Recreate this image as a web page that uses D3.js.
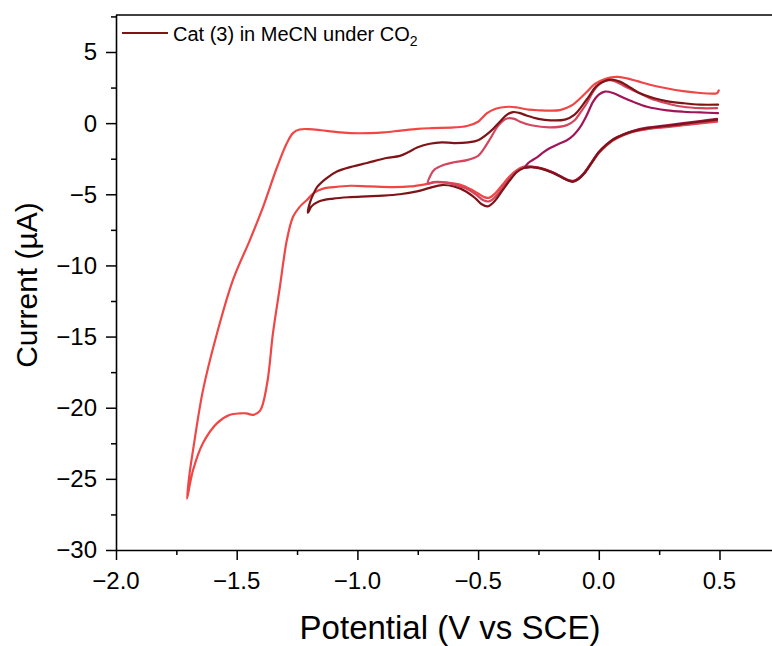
<!DOCTYPE html>
<html>
<head>
<meta charset="utf-8">
<script src="https://cdn.jsdelivr.net/npm/d3@7"></script>
<style>
  html, body { margin: 0; padding: 0; background: #fff; }
  svg { display: block; font-family: "Liberation Sans", Arial, Helvetica, sans-serif; }
</style>
</head>
<body>
<svg id="chart" width="772" height="646"></svg>
<script>
// Cyclic voltammograms: four scans with switching potentials -0.3, -0.7, -1.2 and -1.7 V.
// Each scan is a list of [potential (V vs SCE), current (µA)] pairs, starting at +0.5 V.

const xTickValues = [-2.0, -1.5, -1.0, -0.5, 0.0, 0.5];
const yTickValues = [5, 0, -5, -10, -15, -20, -25, -30];
const legendLabel = "Cat (3) in MeCN under CO";

// Scan to -1.7 V
const scanTo170 = [
  [0.49, 0.1], [0.42, -0.02], [0.35, -0.15], [0.28, -0.28], [0.2, -0.42], [0.14, -0.62],
  [0.1, -0.86], [0.06, -1.2], [0.03, -1.6], [0.0, -2.1], [-0.03, -2.8], [-0.06, -3.5],
  [-0.085, -3.9], [-0.105, -4.05], [-0.125, -4.0], [-0.15, -3.8], [-0.19, -3.45],
  [-0.24, -3.15], [-0.28, -3.05], [-0.31, -3.05], [-0.34, -3.3], [-0.37, -3.75],
  [-0.40, -4.35], [-0.43, -4.95], [-0.455, -5.25], [-0.475, -5.2], [-0.5, -4.95],
  [-0.53, -4.65], [-0.57, -4.35], [-0.62, -4.2], [-0.67, -4.15], [-0.72, -4.3],
  [-0.78, -4.45], [-0.85, -4.5], [-0.95, -4.45], [-1.03, -4.4], [-1.1, -4.5],
  [-1.142, -4.6], [-1.18, -4.9], [-1.209, -5.4], [-1.24, -5.9], [-1.267, -6.6],
  [-1.292, -8.2], [-1.321, -11.5], [-1.35, -14.8], [-1.374, -18.3], [-1.403, -20.2],
  [-1.432, -20.5], [-1.46, -20.4], [-1.486, -20.4], [-1.528, -20.5], [-1.582, -21.1],
  [-1.64, -22.5], [-1.681, -24.4], [-1.706, -26.4],
  [-1.695, -24.6], [-1.681, -23.0], [-1.64, -18.8], [-1.582, -14.8], [-1.515, -11.0],
  [-1.445, -8.2], [-1.391, -5.9], [-1.333, -3.1], [-1.292, -1.4], [-1.267, -0.7],
  [-1.24, -0.45], [-1.2, -0.42], [-1.15, -0.5], [-1.1, -0.6], [-1.03, -0.7],
  [-0.95, -0.7], [-0.89, -0.65], [-0.82, -0.52], [-0.75, -0.4], [-0.69, -0.35],
  [-0.6, -0.3], [-0.546, -0.2], [-0.5, 0.1], [-0.463, 0.7], [-0.43, 1.0],
  [-0.405, 1.1], [-0.37, 1.15], [-0.339, 1.1], [-0.29, 0.95], [-0.244, 0.9],
  [-0.2, 0.88], [-0.161, 0.92], [-0.13, 1.1], [-0.107, 1.3], [-0.08, 1.7],
  [-0.049, 2.2], [-0.02, 2.7], [0.01, 3.0], [0.046, 3.2], [0.08, 3.25], [0.117, 3.15],
  [0.16, 2.95], [0.212, 2.7], [0.28, 2.45], [0.349, 2.25], [0.42, 2.12], [0.475, 2.08],
  [0.49, 2.1], [0.497, 2.3]
];

// Scan to -1.2 V
const scanTo120 = [
  [0.49, 0.25], [0.42, 0.1], [0.35, -0.05], [0.28, -0.2], [0.2, -0.36], [0.14, -0.58],
  [0.1, -0.82], [0.06, -1.15], [0.03, -1.55], [0.0, -2.05], [-0.03, -2.8], [-0.06, -3.55],
  [-0.085, -3.95], [-0.105, -4.12], [-0.125, -4.05], [-0.15, -3.85], [-0.19, -3.5],
  [-0.24, -3.2], [-0.28, -3.1], [-0.31, -3.15], [-0.34, -3.45], [-0.37, -4.05],
  [-0.40, -4.75], [-0.43, -5.45], [-0.46, -5.85], [-0.485, -5.7], [-0.51, -5.3],
  [-0.55, -4.8], [-0.6, -4.45], [-0.65, -4.35], [-0.7, -4.55], [-0.753, -4.8],
  [-0.824, -5.0], [-0.894, -5.1], [-0.96, -5.15], [-1.031, -5.2], [-1.1, -5.3],
  [-1.16, -5.5], [-1.19, -5.85], [-1.205, -6.3],
  [-1.195, -5.5], [-1.18, -4.9], [-1.167, -4.5], [-1.13, -3.9], [-1.085, -3.4],
  [-1.02, -3.05], [-0.96, -2.8], [-0.88, -2.45], [-0.824, -2.3], [-0.79, -2.05],
  [-0.75, -1.7], [-0.7, -1.45], [-0.65, -1.35], [-0.6, -1.4], [-0.54, -1.35],
  [-0.5, -1.2], [-0.45, -0.6], [-0.41, 0.1], [-0.38, 0.6], [-0.355, 0.78],
  [-0.33, 0.72], [-0.297, 0.52], [-0.25, 0.3], [-0.2, 0.2], [-0.14, 0.25],
  [-0.1, 0.6], [-0.07, 1.2], [-0.04, 1.9], [-0.01, 2.6], [0.03, 3.0], [0.06, 3.05],
  [0.09, 2.9], [0.13, 2.5], [0.17, 2.1], [0.23, 1.75], [0.28, 1.55], [0.35, 1.4],
  [0.42, 1.3], [0.494, 1.3]
];

// Scan to -0.7 V
const scanTo070 = [
  [0.49, 0.15], [0.42, 0.02], [0.35, -0.12], [0.28, -0.25], [0.2, -0.4], [0.14, -0.6],
  [0.1, -0.84], [0.06, -1.18], [0.03, -1.58], [0.0, -2.08], [-0.03, -2.8], [-0.06, -3.5],
  [-0.085, -3.9], [-0.105, -4.08], [-0.125, -4.02], [-0.15, -3.82], [-0.19, -3.47],
  [-0.24, -3.17], [-0.28, -3.07], [-0.31, -3.1], [-0.34, -3.38], [-0.37, -3.9],
  [-0.40, -4.55], [-0.43, -5.2], [-0.455, -5.5], [-0.48, -5.4], [-0.51, -5.0],
  [-0.55, -4.6], [-0.6, -4.3], [-0.65, -4.15], [-0.685, -4.15], [-0.708, -4.25],
  [-0.698, -3.7], [-0.68, -3.25], [-0.645, -2.95], [-0.6, -2.75], [-0.546, -2.6],
  [-0.5, -2.3], [-0.48, -1.9], [-0.45, -1.1], [-0.422, -0.3], [-0.40, 0.12],
  [-0.38, 0.33], [-0.35, 0.3], [-0.326, 0.1], [-0.28, -0.15], [-0.202, -0.3],
  [-0.132, -0.14], [-0.1, 0.2], [-0.078, 0.7], [-0.05, 1.4], [-0.024, 2.2],
  [0.0, 2.7], [0.034, 3.0], [0.065, 2.95], [0.117, 2.5], [0.17, 2.1], [0.212, 1.75],
  [0.28, 1.4], [0.349, 1.15], [0.42, 1.05], [0.49, 1.05]
];

// Scan to -0.3 V
const scanTo030 = [
  [0.49, 0.3], [0.42, 0.15], [0.35, 0.0], [0.28, -0.15], [0.2, -0.32], [0.14, -0.55],
  [0.1, -0.8], [0.06, -1.12], [0.03, -1.52], [0.0, -2.02], [-0.03, -2.75], [-0.06, -3.48],
  [-0.085, -3.9], [-0.105, -4.08], [-0.125, -4.02], [-0.15, -3.82], [-0.19, -3.47],
  [-0.24, -3.17], [-0.28, -3.08], [-0.306, -3.12],
  [-0.295, -2.85], [-0.28, -2.65], [-0.256, -2.4], [-0.23, -2.05], [-0.202, -1.75],
  [-0.165, -1.45], [-0.132, -1.2], [-0.105, -0.85], [-0.078, -0.3], [-0.05, 0.55],
  [-0.024, 1.5], [0.0, 2.0], [0.025, 2.22], [0.059, 2.12], [0.1, 1.8], [0.142, 1.5],
  [0.2, 1.15], [0.283, 0.9], [0.35, 0.8], [0.419, 0.75], [0.494, 0.7]
];

const scans = [
  { name: "to -1.7 V", color: "#F04646", values: scanTo170 },
  { name: "to -0.7 V", color: "#D4455E", values: scanTo070 },
  { name: "to -0.3 V", color: "#A01458", values: scanTo030 },
  { name: "to -1.2 V", color: "#7E1417", values: scanTo120 }
];

const svg = d3.select("#chart");
const plotLeft = 116, plotRight = 772, plotTop = 15, plotBottom = 550;

const x = d3.scaleLinear().domain([-2.0, 0.7175]).range([plotLeft, plotRight]);
const y = d3.scaleLinear().domain([-30, 7.6]).range([plotBottom, plotTop]);

// Curves
const line = d3.line()
  .x(d => x(d[0]))
  .y(d => y(d[1]))
  .curve(d3.curveCatmullRom.alpha(0.5));

svg.append("defs").append("clipPath").attr("id", "plot-clip")
  .append("rect").attr("x", plotLeft).attr("y", plotTop)
  .attr("width", plotRight - plotLeft).attr("height", plotBottom - plotTop);

svg.append("g").attr("clip-path", "url(#plot-clip)")
  .selectAll("path")
  .data(scans)
  .join("path")
  .attr("d", d => line(d.values))
  .attr("fill", "none")
  .attr("stroke", d => d.color)
  .attr("stroke-width", 2.2)
  .attr("stroke-linejoin", "round")
  .attr("stroke-linecap", "round");

// Axes
const fmtX = d3.format(".1f");
const fmtY = d3.format("d");
const near = (a, b) => Math.abs(a - b) < 1e-6;

const xAxis = svg.append("g").attr("transform", `translate(0,${plotBottom})`);
xAxis.call(d3.axisBottom(x).tickValues(d3.range(-2.0, 0.71, 0.25)).tickSize(5).tickFormat(""));
xAxis.selectAll(".tick").filter(d => xTickValues.some(v => near(v, d)))
  .select("line").attr("y2", 10);
xAxis.selectAll(".tick line").attr("stroke-width", 1.5);
xAxis.select(".domain").attr("stroke-width", 1.6).attr("d", `M${plotLeft},0.5H${plotRight}`);
xAxis.selectAll(".x-label")
  .data(xTickValues)
  .join("text")
  .attr("class", "x-label")
  .attr("x", d => x(d))
  .attr("y", 39)
  .attr("text-anchor", "middle")
  .attr("font-size", 24)
  .attr("fill", "#000")
  .text(d => fmtX(d));

const yAxis = svg.append("g").attr("transform", `translate(${plotLeft},0)`);
yAxis.call(d3.axisLeft(y).tickValues(d3.range(-30, 7.6, 2.5)).tickSize(5).tickFormat(""));
yAxis.selectAll(".tick").filter(d => yTickValues.some(v => near(v, d)))
  .select("line").attr("x2", -10);
yAxis.selectAll(".tick line").attr("stroke-width", 1.5);
yAxis.select(".domain").attr("stroke-width", 1.6).attr("d", `M0.5,${plotTop}V${plotBottom}`);
yAxis.selectAll(".y-label")
  .data(yTickValues)
  .join("text")
  .attr("class", "y-label")
  .attr("x", -19)
  .attr("y", d => y(d))
  .attr("dy", "0.35em")
  .attr("text-anchor", "end")
  .attr("font-size", 24)
  .attr("fill", "#000")
  .text(d => fmtY(d));

// Top frame line
svg.append("line")
  .attr("x1", plotLeft).attr("x2", plotRight)
  .attr("y1", plotTop).attr("y2", plotTop)
  .attr("stroke", "#000").attr("stroke-width", 1.6);

// Axis titles
svg.append("text")
  .attr("x", 450).attr("y", 639)
  .attr("text-anchor", "middle")
  .attr("font-size", 33)
  .attr("fill", "#000")
  .text("Potential (V vs SCE)");

svg.append("text")
  .attr("transform", "translate(37,285) rotate(-90)")
  .attr("text-anchor", "middle")
  .attr("font-size", 30)
  .attr("fill", "#000")
  .text("Current (µA)");

// Legend
const legend = svg.append("g");
legend.append("line")
  .attr("x1", 122).attr("x2", 168)
  .attr("y1", 33).attr("y2", 33)
  .attr("stroke", scans[3].color)
  .attr("stroke-width", 2.2);
const legendText = legend.append("text")
  .attr("x", 173).attr("y", 41)
  .attr("font-size", 20)
  .attr("fill", "#000");
legendText.append("tspan").text(legendLabel);
legendText.append("tspan").attr("font-size", 14).attr("dy", 5).text("2");
</script>
</body>
</html>
